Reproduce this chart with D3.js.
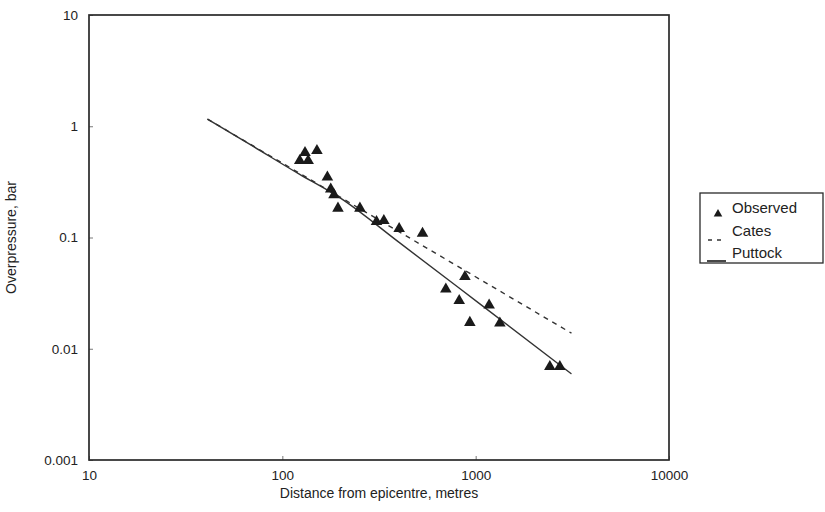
<!DOCTYPE html>
<html><head><meta charset="utf-8">
<script src="https://cdn.jsdelivr.net/npm/d3@7/dist/d3.min.js"></script>
<style>body{margin:0;background:#fff}svg{display:block}text{font-family:"Liberation Sans",Arial,sans-serif;fill:#222}</style>
</head><body><svg id="c" width="825" height="512"></svg>
<script>
// Data
const observedDistance = [131, 123, 136, 151, 171, 178, 185, 194, 252, 307, 335, 402, 531, 880, 701, 822, 1174, 933, 1334, 2419, 2725];
const observedPressure = [0.579, 0.491, 0.491, 0.604, 0.348, 0.272, 0.241, 0.183, 0.183, 0.139, 0.142, 0.120, 0.109, 0.0445, 0.0343, 0.0271, 0.0246, 0.0172, 0.0170, 0.0069, 0.0069];
const puttockDistance = [41, 68, 123, 199, 405, 1051, 3130];
const puttockPressure = [1.16, 0.686, 0.369, 0.227, 0.0894, 0.0253, 0.00595];
const catesDistance = [41, 3130];
const catesPressure = [1.16, 0.0138];
const xTicks = [10, 100, 1000, 10000];
const yTicks = [0.001, 0.01, 0.1, 1, 10];
const xTickLabels = ["10", "100", "1000", "10000"];
const yTickLabels = ["0.001", "0.01", "0.1", "1", "10"];
const legendLabels = ["Observed", "Cates", "Puttock"];

const svg = d3.select("#c");
const L = 89, R = 669, T = 15, B = 460;
const x = d3.scaleLog().domain([10, 10000]).range([L, R]);
const y = d3.scaleLog().domain([0.001, 10]).range([B, T]);
const ink = "#2a2a2a";
const ff = '"Liberation Sans",Arial,sans-serif';

// ticks inward
const xAxis = d3.axisBottom(x).tickValues(xTicks).tickSize(-4).tickFormat((d,i)=>xTickLabels[i]).tickPadding(10);
const gx = svg.append("g").attr("transform", `translate(0,${B})`).call(xAxis);
gx.select(".domain").remove();
gx.selectAll("line").attr("stroke", "#555").attr("stroke-width", 0.8);
gx.selectAll("text").attr("font-size", 13.5).attr("fill", ink).attr("font-family", ff);

const yAxis = d3.axisLeft(y).tickValues(yTicks).tickSize(-4).tickFormat((d,i)=>yTickLabels[i]).tickPadding(11);
const gy = svg.append("g").attr("transform", `translate(${L},0)`).call(yAxis);
gy.select(".domain").remove();
gy.selectAll("line").attr("stroke", "#555").attr("stroke-width", 0.8);
gy.selectAll("text").attr("font-size", 13.5).attr("fill", ink).attr("font-family", ff);

// frame
svg.append("rect").attr("x", L).attr("y", T).attr("width", R-L).attr("height", B-T)
  .attr("fill", "none").attr("stroke", ink).attr("stroke-width", 1.7);

// lines
const putt = puttockDistance.map((d,i)=>[d, puttockPressure[i]]);
const cates = catesDistance.map((d,i)=>[d, catesPressure[i]]);
const line = d3.line().x(d=>x(d[0])).y(d=>y(d[1])).curve(d3.curveMonotoneX);
svg.append("path").attr("d", line(cates)).attr("fill","none").attr("stroke","#333").attr("stroke-width",1.4).attr("stroke-dasharray","5,5");
svg.append("path").attr("d", line(putt)).attr("fill","none").attr("stroke","#333").attr("stroke-width",1.4);

// points
const tri = d3.symbol().type(d3.symbolTriangle).size(58);
svg.append("g").selectAll("path").data(observedDistance.map((d,i)=>[d, observedPressure[i]])).join("path")
  .attr("d", tri).attr("transform", d=>`translate(${x(d[0])},${y(d[1])})`).attr("fill", "#1a1a1a");

// axis titles
svg.append("text").attr("x", (L+R)/2).attr("y", 498).attr("text-anchor","middle").attr("font-size",14).text("Distance from epicentre, metres");
svg.append("text").attr("transform", `translate(16,${(T+B)/2}) rotate(-90)`).attr("text-anchor","middle").attr("font-size",14).text("Overpressure, bar");

// legend
const lg = svg.append("g");
lg.append("rect").attr("x",700).attr("y",193).attr("width",123).attr("height",70).attr("fill","#fff").attr("stroke",ink).attr("stroke-width",1.3);
lg.append("path").attr("d", d3.symbol().type(d3.symbolTriangle).size(32)()).attr("transform","translate(718,214)").attr("fill","#1a1a1a");
lg.append("line").attr("x1",708).attr("x2",726).attr("y1",240).attr("y2",240).attr("stroke","#333").attr("stroke-width",1.4).attr("stroke-dasharray","4,5");
lg.append("line").attr("x1",707).attr("x2",726).attr("y1",261).attr("y2",261).attr("stroke","#333").attr("stroke-width",1.8);
const ly = [208, 231, 253];
legendLabels.forEach((t,i)=>{
  lg.append("text").attr("x",732).attr("y",ly[i]).attr("dy","0.35em").attr("font-size",15).text(t);
});
</script></body></html>
